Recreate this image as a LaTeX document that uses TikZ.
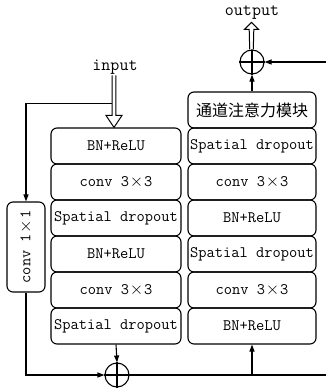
\documentclass[tikz,border=0pt]{standalone}
\usepackage{fontspec}
\newfontfamily\cjk{Noto Sans CJK SC}
\usetikzlibrary{arrows.meta,calc}
\newcommand{\X}{\makebox[15pt]{$\times$}}
\begin{document}
\begin{tikzpicture}[x=1pt,y=-1pt,
  line width=1.1pt,
  box/.style={draw,rounded corners=6pt,inner sep=0pt,font=\ttfamily\fontsize{16}{19}\selectfont},
  lbox/.style={box,minimum width=130pt,minimum height=36pt},
  rbox/.style={box,minimum width=128pt,minimum height=36pt},
  lbl/.style={inner sep=0pt,font=\ttfamily\fontsize{17.5}{20}\selectfont},
  plus/.style={draw,circle,minimum size=24pt,inner sep=0pt},
  arr/.style={-{Triangle[length=7pt,width=5pt]}},
  hollow/.style={draw,fill=white,line width=1pt,line join=miter}]
\clip (0,0) rectangle (326,388);
\fill[white] (0,0) rectangle (326,388);
% left column
\node[lbox] (l1) at (116,146) {BN+ReLU};
\node[lbox] (l2) at (116,182) {conv 3\X3};
\node[lbox] (l3) at (116,218) {Spatial dropout};
\node[lbox] (l4) at (116,254) {BN+ReLU};
\node[lbox] (l5) at (116,290) {conv 3\X3};
\node[lbox] (l6) at (116,326) {Spatial dropout};
% right column
\node[rbox] (r1) at (252,110) {\cjk 通道注意力模块};
\node[rbox] (r2) at (252,146) {Spatial dropout};
\node[rbox] (r3) at (252,182) {conv 3\X3};
\node[rbox] (r4) at (252,218) {BN+ReLU};
\node[rbox] (r5) at (252,254) {Spatial dropout};
\node[rbox] (r6) at (252,290) {conv 3\X3};
\node[rbox] (r7) at (252,326) {BN+ReLU};
% shortcut conv
\node[box,rotate=90,minimum width=90pt,minimum height=38pt] (k) at (26,247) {conv 1\X1};
% sums
\node[plus] (c1) at (117,375) {};
\draw (c1.north) -- (c1.south) (c1.west) -- (c1.east);
\node[plus] (c2) at (252,62) {};
\draw (c2.north) -- (c2.south) (c2.west) -- (c2.east);
% labels
\node[lbl] (in) at (115,67) {input};
\node[lbl] (out) at (252,13) {output};
% input hollow arrow
\coordinate (tipin) at (l1.north -| 114,0);
\draw[hollow] ($(tipin)+(-1.8,-52)$) -- ($(tipin)+(-1.8,-12)$) -- ($(tipin)+(-8,-12)$) -- (tipin)
  -- ($(tipin)+(8,-12)$) -- ($(tipin)+(1.8,-12)$) -- ($(tipin)+(1.8,-52)$);
\coordinate (split) at ($(tipin)+(-1.8,-24)$);
\draw[arr] (split) -| (k.east);
% output hollow arrow
\coordinate (tipout) at ($(c2.north)+(-0.5,-27)$);
\draw[hollow] ($(c2.north)+(-2.3,0)$) -- ($(tipout)+(-2.3,7)$) -- ($(tipout)+(-7,7)$) -- (tipout)
  -- ($(tipout)+(7,7)$) -- ($(tipout)+(2.3,7)$) -- ($(c2.north)+(1.3,0)$);
% connectors
\draw[arr] (l6.south) -- (c1.north);
\draw[arr] (k.west) |- (c1.west);
\coordinate (rx) at (340,0);
\draw[arr] (c1.east) -- (c1.east -| rx) |- (c2.east);
\draw[arr] (r7.south |- c1.east) -- (r7.south);
\draw[arr] (r1.north) -- (c2.south);
\end{tikzpicture}
\end{document}
